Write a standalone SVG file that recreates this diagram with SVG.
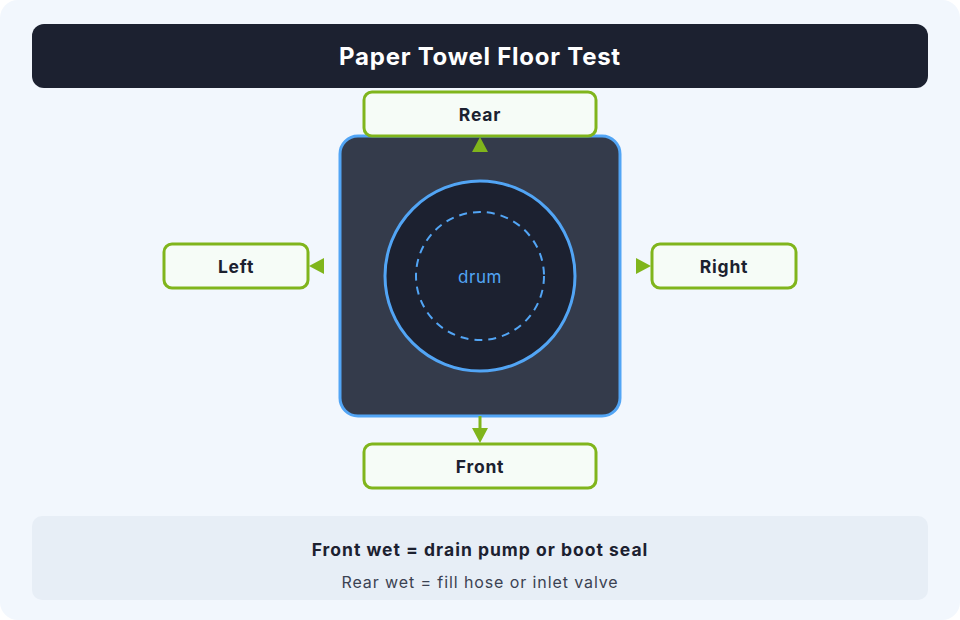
<svg xmlns="http://www.w3.org/2000/svg" width="960" height="620" viewBox="0 0 960 620">
<defs>
<style>
.lbl{fill:#f6fcf7;stroke:#80b51c;stroke-width:3}
.lt{font-family:Inter,"Liberation Sans",sans-serif;font-weight:700;font-size:17.5px;letter-spacing:0.8px;fill:#1c2130;text-anchor:middle}
.conn{stroke:#80b51c;stroke-width:3;fill:none}
.ah{fill:#80b51c}
</style>
</defs>
<rect x="0" y="0" width="960" height="620" fill="#ffffff"/>
<rect x="0" y="0" width="960" height="620" rx="18" fill="#f2f7fd"/>
<g id="title">
<rect x="32" y="24" width="896" height="64" rx="12" fill="#1c2130"/>
<text x="480" y="65" font-family="Inter,'Liberation Sans',sans-serif" font-weight="700" font-size="24" letter-spacing="0.75" fill="#ffffff" text-anchor="middle">Paper Towel Floor Test</text>
</g>
<g id="machine">
<rect x="340" y="136" width="280" height="280" rx="18" fill="#343b4b" stroke="#52a5f5" stroke-width="3"/>
<circle cx="480" cy="276" r="95" fill="#1c2130" stroke="#52a5f5" stroke-width="3"/>
<circle cx="480" cy="276" r="64" fill="none" stroke="#52a5f5" stroke-width="2" stroke-dasharray="8 6"/>
<text x="480" y="283" font-family="Inter,'Liberation Sans',sans-serif" font-size="17" letter-spacing="0.5" fill="#52a5f5" text-anchor="middle">drum</text>
</g>
<g id="connectors">
<polygon class="ah" points="480,137 472,152 488,152"/>
<polygon class="ah" points="309,266 324,258 324,274"/>
<polygon class="ah" points="651,266 636,258 636,274"/>
<line class="conn" x1="480" y1="416" x2="480" y2="430"/>
<polygon class="ah" points="480,443 472,428 488,428"/>
</g>
<g id="rear">
<rect class="lbl" x="364" y="92" width="232" height="44" rx="8"/>
<text class="lt" x="480" y="121">Rear</text>
</g>
<g id="left">
<rect class="lbl" x="164" y="244" width="144" height="44" rx="8"/>
<text class="lt" x="236" y="273">Left</text>
</g>
<g id="right">
<rect class="lbl" x="652" y="244" width="144" height="44" rx="8"/>
<text class="lt" x="724" y="273">Right</text>
</g>
<g id="front">
<rect class="lbl" x="364" y="444" width="232" height="44" rx="8"/>
<text class="lt" x="480" y="473">Front</text>
</g>
<g id="footer">
<rect x="32" y="516" width="896" height="84" rx="10" fill="#e7eef6"/>
<text x="480" y="556" font-family="Inter,'Liberation Sans',sans-serif" font-weight="700" font-size="17.5" letter-spacing="1" fill="#1c2130" text-anchor="middle">Front wet = drain pump or boot seal</text>
<text x="480" y="588" font-family="Inter,'Liberation Sans',sans-serif" font-size="16" letter-spacing="0.9" fill="#3b4252" text-anchor="middle">Rear wet = fill hose or inlet valve</text>
</g>
</svg>
